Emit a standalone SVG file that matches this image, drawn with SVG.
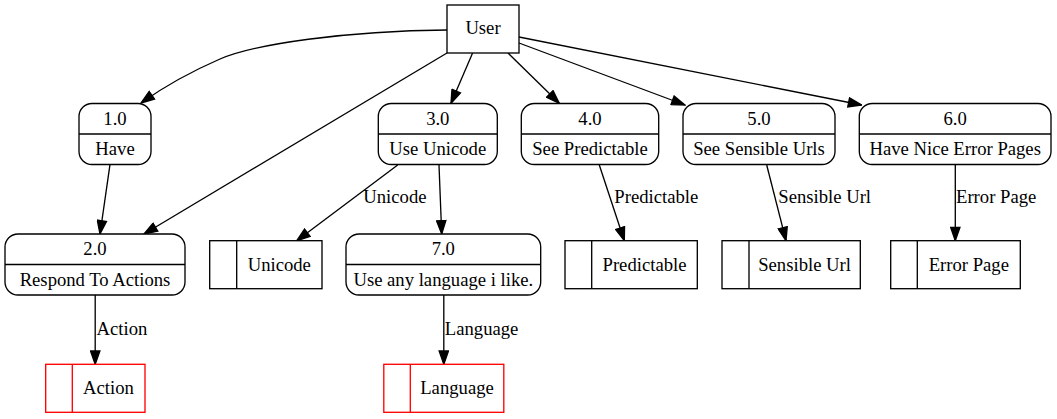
<svg xmlns="http://www.w3.org/2000/svg" width="1057" height="419" viewBox="0 0 1057 419">
<style>
  text { font-family: "Liberation Serif", "Times New Roman", serif; font-size: 18.67px; fill: #000; }
  .c { text-anchor: middle; }
  .n { fill: #fff; stroke: #000; stroke-width: 1.33; }
  .red { fill: #fff; stroke: #ff0000; stroke-width: 1.33; }
  .rl { stroke: #ff0000; stroke-width: 1.33; fill: none; }
  .dl { stroke: #000; stroke-width: 1.33; fill: none; }
  .e { stroke: #000; stroke-width: 1.33; fill: none; marker-end: url(#ah); }
</style>
<defs>
  <marker id="ah" markerUnits="userSpaceOnUse" markerWidth="15" markerHeight="11" refX="13.33" refY="4.67" orient="auto" viewBox="-1 -1 15 11">
    <path d="M0,0 L13.33,4.67 L0,9.33 Z" fill="#000" stroke="#000" stroke-width="1.33"/>
  </marker>
</defs>
<rect width="1057" height="419" fill="#fff"/>
<g id="connectors">
  <path class="e" d="M447,30 C345,31 255,44 220,59 C190,72 165,86 141,103"/>
  <path class="e" d="M447,53 L144,234"/>
  <path class="e" d="M472.6,53 L451,103.3"/>
  <path class="e" d="M508,53 L559.3,103.3"/>
  <path class="e" d="M519,43 L685,105"/>
  <path class="e" d="M519,37 L861.7,105"/>
  <path class="e" d="M110,164.3 L100,234"/>
  <path class="e" d="M397.7,165 L296.7,240.7"/>
  <path class="e" d="M439,165 L441.7,234"/>
  <path class="e" d="M599.3,165 L624.3,240.7"/>
  <path class="e" d="M766.7,165 L786,240.7"/>
  <path class="e" d="M955.3,165 L955.3,240.7"/>
  <path class="e" d="M95.2,295 L95.2,364.3"/>
  <path class="e" d="M443.8,295 L443.8,364.3"/>
  <text x="363.3" y="203.3">Unicode</text>
  <text x="614.3" y="203.3">Predictable</text>
  <text x="778.3" y="203.3">Sensible Url</text>
  <text x="956" y="203.3">Error Page</text>
  <text x="96.6" y="335.3">Action</text>
  <text x="444.8" y="335.3">Language</text>
</g>
<g id="user">
  <rect class="n" x="447" y="5" width="72" height="48"/>
  <text class="c" x="483" y="34">User</text>
</g>
<g id="p1">
  <rect class="n" x="79" y="103.5" width="72" height="61" rx="13"/>
  <line class="dl" x1="79" y1="134" x2="151" y2="134"/>
  <text class="c" x="115" y="124.5">1.0</text>
  <text class="c" x="115" y="155">Have</text>
</g>
<g id="p3">
  <rect class="n" x="378.3" y="103.5" width="119" height="61" rx="13"/>
  <line class="dl" x1="378.3" y1="134" x2="497.3" y2="134"/>
  <text class="c" x="437.8" y="124.5">3.0</text>
  <text class="c" x="437.8" y="155">Use Unicode</text>
</g>
<g id="p4">
  <rect class="n" x="521.3" y="103.5" width="137.4" height="61" rx="13"/>
  <line class="dl" x1="521.3" y1="134" x2="658.7" y2="134"/>
  <text class="c" x="590" y="124.5">4.0</text>
  <text class="c" x="590" y="155">See Predictable</text>
</g>
<g id="p5">
  <rect class="n" x="683" y="103.5" width="152" height="61" rx="13"/>
  <line class="dl" x1="683" y1="134" x2="835" y2="134"/>
  <text class="c" x="759" y="124.5">5.0</text>
  <text class="c" x="759" y="155">See Sensible Urls</text>
</g>
<g id="p6">
  <rect class="n" x="859.3" y="103.5" width="191.7" height="61" rx="13"/>
  <line class="dl" x1="859.3" y1="134" x2="1051" y2="134"/>
  <text class="c" x="955.2" y="124.5">6.0</text>
  <text class="c" x="955.2" y="155">Have Nice Error Pages</text>
</g>
<g id="p2">
  <rect class="n" x="5" y="234" width="180" height="61" rx="13"/>
  <line class="dl" x1="5" y1="264.5" x2="185" y2="264.5"/>
  <text class="c" x="95" y="255">2.0</text>
  <text class="c" x="95" y="285.5">Respond To Actions</text>
</g>
<g id="p7">
  <rect class="n" x="346" y="234" width="194.7" height="61" rx="13"/>
  <line class="dl" x1="346" y1="264.5" x2="540.7" y2="264.5"/>
  <text class="c" x="443.3" y="255">7.0</text>
  <text class="c" x="443.3" y="285.5">Use any language i like.</text>
</g>
<g id="s-unicode">
  <rect class="n" x="209.7" y="240.7" width="112.3" height="48"/>
  <line class="dl" x1="236.7" y1="240.7" x2="236.7" y2="288.7"/>
  <text class="c" x="279.3" y="270.5">Unicode</text>
</g>
<g id="s-predictable">
  <rect class="n" x="565" y="240.7" width="132.3" height="48"/>
  <line class="dl" x1="591.7" y1="240.7" x2="591.7" y2="288.7"/>
  <text class="c" x="644.5" y="270.5">Predictable</text>
</g>
<g id="s-sensible">
  <rect class="n" x="722" y="240.7" width="138.3" height="48"/>
  <line class="dl" x1="749" y1="240.7" x2="749" y2="288.7"/>
  <text class="c" x="804.6" y="270.5">Sensible Url</text>
</g>
<g id="s-error">
  <rect class="n" x="890.7" y="240.7" width="129.6" height="48"/>
  <line class="dl" x1="917.3" y1="240.7" x2="917.3" y2="288.7"/>
  <text class="c" x="968.8" y="270.5">Error Page</text>
</g>
<g id="s-action">
  <rect class="red" x="45.7" y="364.3" width="99.3" height="48"/>
  <line class="rl" x1="72.3" y1="364.3" x2="72.3" y2="412.3"/>
  <text class="c" x="108.5" y="394.3">Action</text>
</g>
<g id="s-language">
  <rect class="red" x="383.8" y="364.3" width="120" height="48"/>
  <line class="rl" x1="410.3" y1="364.3" x2="410.3" y2="412.3"/>
  <text class="c" x="457" y="394.3">Language</text>
</g>
</svg>
